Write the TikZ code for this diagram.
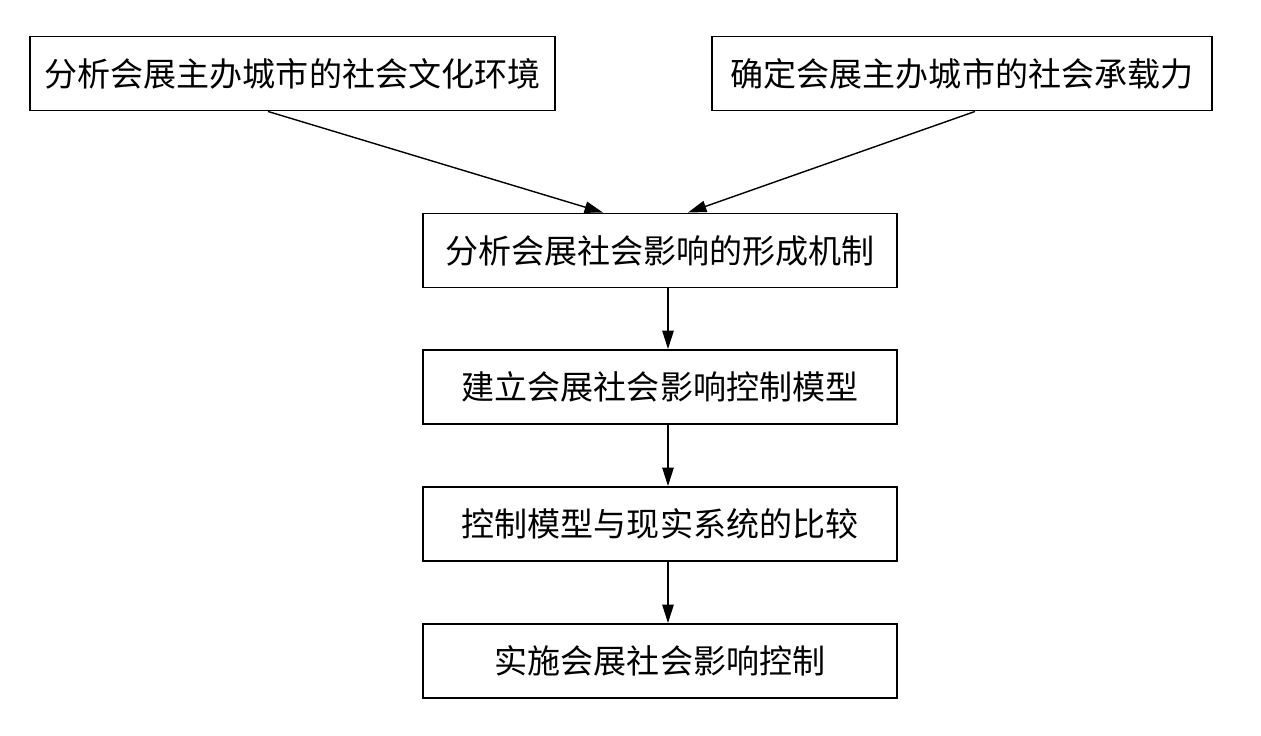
\documentclass[tikz,border=0pt]{standalone}
\usepackage{fontspec}
\newfontfamily\cjk{Noto Sans CJK SC}
\usetikzlibrary{arrows.meta}

\begin{document}
\begin{tikzpicture}[x=0.02cm, y=-0.02cm,
  every node/.style={font=\cjk\fontsize{18.8}{22}\selectfont},
  box/.style={draw, line width=1.1pt, minimum height=1.48cm, inner sep=0pt},
  link/.style={-{Triangle[length=10.5pt, width=6.5pt]}, line width=0.8pt}]
\useasboundingbox (0,0) rectangle (1261,735);
\node[box, minimum width=10.5cm] (culture) at (292.5,73.5) {分析会展主办城市的社会文化环境};
\node[box, minimum width=10cm] (capacity) at (962,73.5) {确定会展主办城市的社会承载力};
\node[box, minimum width=9.48cm] (mechanism) at (660,250.5) {分析会展社会影响的形成机制};
\node[box, minimum width=9.48cm] (model) at (660,387) {建立会展社会影响控制模型};
\node[box, minimum width=9.48cm] (compare) at (660,524) {控制模型与现实系统的比较};
\node[box, minimum width=9.48cm] (implement) at (660,661) {实施会展社会影响控制};
\draw[link] ([xshift=-0.49cm]culture.south) -- ([xshift=-1.14cm]mechanism.north);
\draw[link] ([xshift=0.26cm]capacity.south) -- ([xshift=0.56cm]mechanism.north);
\draw[link] ([xshift=0.16cm]mechanism.south) -- ([xshift=0.16cm]model.north);
\draw[link] ([xshift=0.16cm]model.south) -- ([xshift=0.16cm]compare.north);
\draw[link] ([xshift=0.16cm]compare.south) -- ([xshift=0.16cm]implement.north);
\end{tikzpicture}
\end{document}
